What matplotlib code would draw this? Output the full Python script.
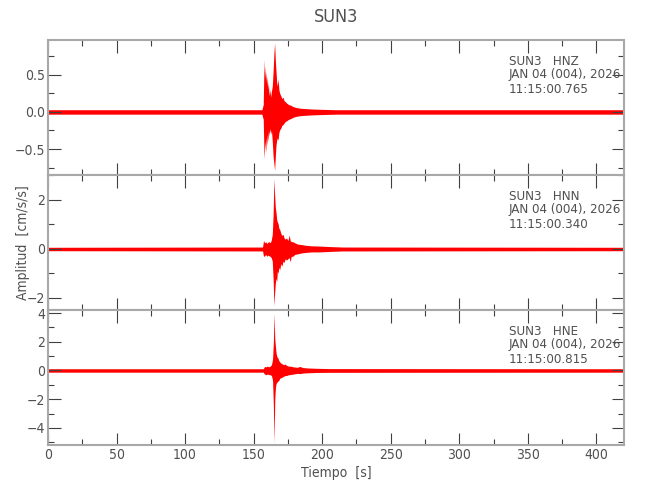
import matplotlib
matplotlib.use("Agg")
import matplotlib.pyplot as plt
from matplotlib.ticker import MultipleLocator

plt.rcParams['font.family'] = ['DejaVu Sans']
plt.rcParams['font.stretch'] = 'condensed'

# envelope of each trace (time in s, upper and lower peak amplitude in cm/s/s)
t_hnz = [0, 156.0, 157.0, 157.6, 158.0, 158.4, 158.8, 159.2, 159.6, 160.0, 160.4,
         160.8, 161.2, 161.8, 162.4, 163.0, 163.6, 164.2, 164.8, 165.3, 165.8,
         166.3, 166.8, 167.3, 167.8, 168.4, 169.0, 169.8, 170.6, 171.4, 172.2,
         173.0, 174.0, 175.5, 177.0, 179.0, 181.0, 184.0, 188.0, 192.0, 200.0,
         210.0, 420]
up_hnz = [0.03, 0.03, 0.10, 0.71, 0.45, 0.62, 0.40, 0.55, 0.35, 0.48, 0.30,
          0.38, 0.22, 0.30, 0.20, 0.28, 0.35, 0.55, 0.80, 0.93, 0.70,
          0.55, 0.40, 0.35, 0.45, 0.30, 0.25, 0.22, 0.18, 0.20, 0.15,
          0.14, 0.12, 0.10, 0.09, 0.07, 0.06, 0.05, 0.045, 0.04, 0.035,
          0.03, 0.03]
lo_hnz = [-0.03, -0.03, -0.10, -0.63, -0.50, -0.40, -0.55, -0.35, -0.45, -0.30, -0.40,
          -0.25, -0.32, -0.22, -0.30, -0.25, -0.40, -0.60, -0.70, -0.79, -0.60,
          -0.45, -0.38, -0.35, -0.38, -0.28, -0.24, -0.22, -0.18, -0.17, -0.15,
          -0.13, -0.12, -0.10, -0.09, -0.07, -0.06, -0.05, -0.045, -0.04, -0.035,
          -0.03, -0.03]

t_hnn = [0, 156.5, 157.2, 158.0, 158.8, 159.6, 160.4, 161.2, 162.0, 162.8, 163.6,
         164.2, 164.8, 165.3, 165.8, 166.3, 166.8, 167.3, 167.8, 168.4, 169.0,
         169.8, 170.6, 171.4, 172.2, 173.0, 174.0, 175.0, 176.0, 176.6, 177.4,
         178.5, 180.0, 182.0, 185.0, 188.0, 192.0, 198.0, 205.0, 215.0, 420]
up_hnn = [0.07, 0.08, 0.35, 0.25, 0.30, 0.22, 0.28, 0.30, 0.25, 0.35, 0.60,
          1.40, 2.88, 2.20, 1.70, 1.50, 1.20, 1.10, 1.05, 0.85, 0.80,
          0.65, 0.55, 0.60, 0.45, 0.40, 0.45, 0.35, 0.57, 0.35, 0.30,
          0.30, 0.25, 0.20, 0.18, 0.15, 0.13, 0.12, 0.10, 0.08, 0.07]
lo_hnn = [-0.07, -0.08, -0.30, -0.28, -0.22, -0.30, -0.25, -0.28, -0.30, -0.35, -0.50,
          -1.20, -2.31, -1.80, -1.40, -1.20, -1.33, -0.90, -1.00, -0.75, -0.85,
          -0.60, -0.70, -0.50, -0.55, -0.40, -0.45, -0.40, -0.35, -0.53, -0.30,
          -0.30, -0.22, -0.20, -0.16, -0.14, -0.12, -0.12, -0.10, -0.08, -0.07]

t_hne = [0, 157.0, 157.5, 158.0, 159.0, 160.0, 161.0, 162.0, 163.0, 163.8, 164.4,
         164.9, 165.4, 165.9, 166.4, 167.0, 167.6, 168.3, 169.0, 170.0, 171.0,
         172.0, 173.0, 174.0, 175.5, 177.0, 179.0, 182.0, 183.5, 186.0, 190.0,
         196.0, 205.0, 420]
up_hne = [0.12, 0.12, 0.20, 0.28, 0.25, 0.30, 0.25, 0.30, 0.40, 0.80, 2.00,
          3.98, 2.20, 1.64, 1.20, 0.94, 0.90, 0.70, 0.60, 0.50, 0.45,
          0.40, 0.45, 0.35, 0.30, 0.30, 0.25, 0.22, 0.28, 0.20, 0.17,
          0.15, 0.13, 0.12]
lo_hne = [-0.12, -0.12, -0.20, -0.25, -0.30, -0.25, -0.28, -0.30, -0.35, -0.70, -2.50,
          -5.03, -2.00, -1.17, -0.90, -0.82, -0.75, -0.70, -0.55, -0.50, -0.45,
          -0.40, -0.35, -0.35, -0.30, -0.28, -0.25, -0.20, -0.22, -0.18, -0.16,
          -0.14, -0.13, -0.12]

channels = ['HNZ', 'HNN', 'HNE']
start_times = ['11:15:00.765', '11:15:00.340', '11:15:00.815']
ylims = [(-0.85, 0.97), (-2.49, 3.02), (-5.19, 4.21)]
major_steps = [0.5, 2, 2]
minor_steps = [0.25, 1, 1]

traces = [(t_hnz, up_hnz, lo_hnz), (t_hnn, up_hnn, lo_hnn), (t_hne, up_hne, lo_hne)]

spine_col = '#a8a8a8'
text_col = '#505050'

fig = plt.figure(figsize=(6.5, 5), dpi=100)
tops = [0.92, 0.65, 0.38]
h = 0.27
axes = []
for i in range(3):
    ax = fig.add_axes([0.0738, tops[i] - h, 0.886, h])
    axes.append(ax)
    t, up, lo = traces[i]
    ax.fill_between(t, lo, up, color='red', lw=0)
    ax.set_xlim(0, 420)
    ax.set_ylim(*ylims[i])
    ax.xaxis.set_major_locator(MultipleLocator(50))
    ax.xaxis.set_minor_locator(MultipleLocator(25))
    ax.yaxis.set_major_locator(MultipleLocator(major_steps[i]))
    ax.yaxis.set_minor_locator(MultipleLocator(minor_steps[i]))
    ax.tick_params(which='both', direction='in', top=True, right=True,
                   color='#404040', labelcolor=text_col, labelsize=10, width=0.8, pad=2)
    ax.tick_params(which='major', length=9)
    ax.tick_params(which='minor', length=4)
    for s in ax.spines.values():
        s.set_color(spine_col)
        s.set_linewidth(1.5)
    if i < 2:
        ax.tick_params(labelbottom=False)
    # station / date / start time block
    ax.text(0.80, 0.839, 'SUN3   ' + channels[i], transform=ax.transAxes,
            color=text_col, fontsize=9.5, va='center')
    ax.text(0.80, 0.741, 'JAN 04 (004), 2026', transform=ax.transAxes,
            color=text_col, fontsize=9.5, va='center')
    ax.text(0.80, 0.63, start_times[i], transform=ax.transAxes,
            color=text_col, fontsize=9.5, va='center')

axes[0].set_title('SUN3', color=text_col, fontsize=13, pad=13)
axes[1].set_ylabel('Amplitud  [cm/s/s]', color=text_col, fontsize=10)
axes[1].yaxis.set_label_coords(-0.031, 0.5)
axes[2].set_xlabel('Tiempo  [s]', color=text_col, fontsize=10, labelpad=3)

fig.savefig('out.png', dpi=100)
